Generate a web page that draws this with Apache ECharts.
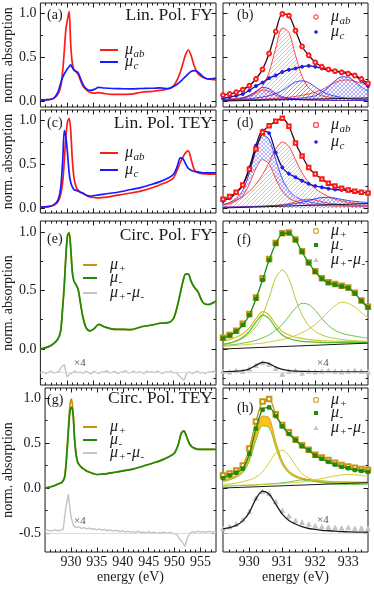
<!DOCTYPE html>
<html>
<head>
<meta charset="utf-8">
<script src="https://cdn.jsdelivr.net/npm/echarts@6/dist/echarts.min.js"></script>
<style>
  html, body { margin: 0; padding: 0; background: #fff; }
  #chart { width: 374px; height: 589px; }
</style>
</head>
<body>
<div id="chart"></div>
<script>
// ---------- data ----------
// left column (wide energy range)
const energyL = [925, 926.5, 927.5, 928.3, 928.8, 929.2, 929.5, 929.8, 930.1, 930.4, 930.7, 931.0, 931.3, 931.7, 932.1, 932.5, 933.0, 933.6, 934.3, 935.0, 936.0, 937.0, 938.5, 940.0, 942.0, 944.0, 946.0, 947.5, 949.0, 950.0, 950.7, 951.3, 951.8, 952.3, 952.8, 953.3, 953.9, 954.6, 955.5, 956.5, 958.0];
const muAbA = [0.01, 0.015, 0.03, 0.08, 0.16, 0.35, 0.58, 0.82, 0.93, 1.02, 0.64, 0.43, 0.36, 0.33, 0.30, 0.24, 0.17, 0.13, 0.10, 0.09, 0.095, 0.085, 0.075, 0.075, 0.078, 0.10, 0.11, 0.12, 0.14, 0.17, 0.24, 0.33, 0.43, 0.53, 0.58, 0.52, 0.40, 0.31, 0.27, 0.25, 0.24];
const muCA = [0.01, 0.015, 0.03, 0.10, 0.20, 0.27, 0.31, 0.34, 0.37, 0.39, 0.41, 0.38, 0.35, 0.34, 0.32, 0.26, 0.19, 0.14, 0.12, 0.13, 0.155, 0.148, 0.142, 0.14, 0.138, 0.142, 0.145, 0.15, 0.14, 0.165, 0.19, 0.22, 0.25, 0.28, 0.31, 0.335, 0.345, 0.33, 0.28, 0.25, 0.26];
const muAbC = [0.01, 0.015, 0.03, 0.07, 0.15, 0.30, 0.55, 0.82, 0.98, 1.02, 0.88, 0.55, 0.35, 0.24, 0.20, 0.18, 0.17, 0.145, 0.125, 0.12, 0.115, 0.12, 0.135, 0.15, 0.17, 0.195, 0.23, 0.265, 0.30, 0.34, 0.43, 0.52, 0.58, 0.63, 0.65, 0.56, 0.44, 0.40, 0.39, 0.385, 0.385];
const muCC = [0.01, 0.015, 0.035, 0.09, 0.22, 0.55, 0.88, 0.80, 0.62, 0.40, 0.29, 0.24, 0.21, 0.20, 0.19, 0.18, 0.165, 0.145, 0.135, 0.14, 0.15, 0.158, 0.17, 0.185, 0.21, 0.235, 0.27, 0.30, 0.34, 0.38, 0.47, 0.57, 0.56, 0.50, 0.45, 0.43, 0.415, 0.41, 0.40, 0.40, 0.40];
const muPlusE = [0.0, 0.02, 0.047, 0.088, 0.155, 0.37, 0.56, 0.81, 0.975, 0.995, 0.86, 0.655, 0.58, 0.55, 0.505, 0.40, 0.27, 0.18, 0.155, 0.17, 0.21, 0.19, 0.17, 0.168, 0.165, 0.19, 0.205, 0.22, 0.225, 0.26, 0.36, 0.48, 0.58, 0.64, 0.64, 0.58, 0.53, 0.49, 0.40, 0.378, 0.405];
const muMinusE = [0.0, 0.018, 0.045, 0.085, 0.15, 0.36, 0.55, 0.80, 0.97, 0.99, 0.86, 0.66, 0.58, 0.55, 0.51, 0.40, 0.27, 0.18, 0.155, 0.17, 0.21, 0.19, 0.17, 0.168, 0.165, 0.19, 0.205, 0.22, 0.225, 0.26, 0.36, 0.48, 0.58, 0.64, 0.64, 0.58, 0.53, 0.49, 0.40, 0.38, 0.41];
const muPlusG = [0.0, 0.02, 0.045, 0.065, 0.13, 0.40, 0.68, 0.92, 0.99, 0.85, 0.55, 0.37, 0.29, 0.25, 0.225, 0.21, 0.19, 0.175, 0.16, 0.15, 0.155, 0.16, 0.175, 0.19, 0.21, 0.245, 0.28, 0.31, 0.35, 0.39, 0.48, 0.61, 0.63, 0.57, 0.50, 0.46, 0.44, 0.43, 0.43, 0.43, 0.43];
const muMinusG = [0.0, 0.02, 0.045, 0.065, 0.125, 0.37, 0.62, 0.84, 0.90, 0.82, 0.54, 0.365, 0.285, 0.25, 0.225, 0.21, 0.19, 0.175, 0.16, 0.15, 0.155, 0.16, 0.175, 0.19, 0.21, 0.245, 0.28, 0.31, 0.35, 0.39, 0.48, 0.61, 0.635, 0.575, 0.50, 0.46, 0.44, 0.43, 0.43, 0.43, 0.43];

// dichroism (x4), 0.5 eV steps
const energyFine = [925, 925.5, 926, 926.5, 927, 927.5, 928, 928.5, 929, 929.5, 930, 930.5, 931, 931.5, 932, 932.5, 933, 933.5, 934, 934.5, 935, 935.5, 936, 936.5, 937, 937.5, 938, 938.5, 939, 939.5, 940, 940.5, 941, 941.5, 942, 942.5, 943, 943.5, 944, 944.5, 945, 945.5, 946, 946.5, 947, 947.5, 948, 948.5, 949, 949.5, 950, 950.5, 951, 951.5, 952, 952.5, 953, 953.5, 954, 954.5, 955, 955.5, 956, 956.5, 957, 957.5, 958];
const diffE = [-0.205, -0.195, -0.21, -0.2, -0.19, -0.205, -0.2, -0.19, -0.15, -0.135, -0.24, -0.215, -0.205, -0.19, -0.205, -0.195, -0.21, -0.19, -0.2, -0.215, -0.19, -0.2, -0.21, -0.195, -0.2, -0.185, -0.205, -0.2, -0.19, -0.21, -0.2, -0.195, -0.185, -0.205, -0.2, -0.19, -0.205, -0.195, -0.2, -0.21, -0.19, -0.2, -0.195, -0.205, -0.19, -0.2, -0.21, -0.195, -0.2, -0.19, -0.205, -0.2, -0.225, -0.25, -0.265, -0.21, -0.195, -0.21, -0.2, -0.19, -0.205, -0.2, -0.21, -0.195, -0.2, -0.19, -0.205];
const diffG = [-0.475, -0.465, -0.48, -0.47, -0.465, -0.475, -0.47, -0.46, -0.22, -0.07, -0.32, -0.42, -0.44, -0.43, -0.45, -0.44, -0.455, -0.445, -0.46, -0.45, -0.465, -0.455, -0.47, -0.46, -0.475, -0.465, -0.48, -0.47, -0.475, -0.485, -0.475, -0.49, -0.48, -0.49, -0.485, -0.495, -0.48, -0.495, -0.49, -0.5, -0.485, -0.5, -0.49, -0.505, -0.495, -0.5, -0.49, -0.505, -0.495, -0.5, -0.51, -0.52, -0.57, -0.6, -0.65, -0.55, -0.5, -0.485, -0.495, -0.48, -0.49, -0.485, -0.495, -0.48, -0.49, -0.485, -0.49];
const diffZeroE = -0.2;
const diffZeroG = -0.5;

// right column (zoom on the L3 edge), 0.2 eV steps
const energyR = [929.2, 929.4, 929.6, 929.8, 930.0, 930.2, 930.4, 930.6, 930.8, 931.0, 931.2, 931.4, 931.6, 931.8, 932.0, 932.2, 932.4, 932.6, 932.8, 933.0, 933.2, 933.4, 933.6];
const energyBg = [929.2, 933.6];

// (b)
const muAbB = [0.068, 0.08, 0.10, 0.13, 0.175, 0.25, 0.36, 0.54, 0.79, 0.99, 0.97, 0.80, 0.62, 0.52, 0.44, 0.39, 0.36, 0.34, 0.325, 0.31, 0.29, 0.25, 0.20];
const muCB = [0.03, 0.045, 0.06, 0.08, 0.12, 0.17, 0.21, 0.26, 0.29, 0.33, 0.355, 0.37, 0.39, 0.40, 0.39, 0.37, 0.35, 0.34, 0.335, 0.32, 0.29, 0.23, 0.17];
const abBigB = [0.02, 0.025, 0.03, 0.04, 0.06, 0.10, 0.17, 0.33, 0.60, 0.83, 0.78, 0.52, 0.28, 0.15, 0.09, 0.06, 0.045, 0.035, 0.03, 0.025, 0.02, 0.02, 0.015];
const abSmallB = [0.005, 0.008, 0.015, 0.025, 0.05, 0.09, 0.125, 0.11, 0.065, 0.038, 0.025, 0.018, 0.013, 0.011, 0.01, 0.009, 0.008, 0.007, 0.007, 0.006, 0.006, 0.005, 0.005];
const abRightB = [0.01, 0.011, 0.012, 0.014, 0.016, 0.019, 0.022, 0.026, 0.03, 0.036, 0.043, 0.052, 0.065, 0.08, 0.10, 0.13, 0.17, 0.21, 0.235, 0.24, 0.225, 0.20, 0.17];
const cSmallB = [0.008, 0.012, 0.02, 0.035, 0.065, 0.11, 0.155, 0.14, 0.085, 0.05, 0.032, 0.023, 0.017, 0.014, 0.012, 0.01, 0.009, 0.008, 0.008, 0.007, 0.007, 0.006, 0.006];
const cMidB = [0.01, 0.012, 0.015, 0.02, 0.025, 0.035, 0.045, 0.06, 0.085, 0.12, 0.17, 0.215, 0.23, 0.21, 0.16, 0.11, 0.075, 0.055, 0.04, 0.03, 0.025, 0.02, 0.018];
const cRightB = [0.008, 0.009, 0.01, 0.011, 0.012, 0.014, 0.016, 0.018, 0.02, 0.023, 0.026, 0.03, 0.035, 0.045, 0.06, 0.10, 0.16, 0.23, 0.275, 0.27, 0.22, 0.16, 0.11];
const bgB = [0.0, 0.035];

// (d)
const muAbD = [0.10, 0.13, 0.18, 0.26, 0.44, 0.67, 0.86, 0.935, 0.985, 1.02, 0.93, 0.74, 0.59, 0.46, 0.385, 0.33, 0.28, 0.25, 0.225, 0.205, 0.19, 0.18, 0.17];
const muCD = [0.08, 0.11, 0.17, 0.26, 0.46, 0.71, 0.88, 0.85, 0.63, 0.46, 0.39, 0.35, 0.31, 0.275, 0.25, 0.235, 0.22, 0.21, 0.205, 0.195, 0.185, 0.18, 0.17];
const cMainD = [0.04, 0.06, 0.11, 0.20, 0.40, 0.66, 0.83, 0.78, 0.55, 0.33, 0.20, 0.13, 0.09, 0.07, 0.055, 0.045, 0.04, 0.035, 0.03, 0.025, 0.02, 0.02, 0.018];
const abSmallD = [0.03, 0.045, 0.08, 0.14, 0.27, 0.45, 0.55, 0.50, 0.33, 0.19, 0.11, 0.075, 0.055, 0.04, 0.035, 0.03, 0.025, 0.02, 0.02, 0.018, 0.015, 0.014, 0.013];
const abBigD = [0.04, 0.06, 0.09, 0.13, 0.19, 0.27, 0.38, 0.52, 0.67, 0.75, 0.70, 0.55, 0.40, 0.29, 0.22, 0.17, 0.13, 0.10, 0.08, 0.065, 0.055, 0.05, 0.045];
const abRightD = [0.01, 0.01, 0.012, 0.013, 0.015, 0.018, 0.02, 0.025, 0.03, 0.038, 0.05, 0.07, 0.092, 0.10, 0.09, 0.07, 0.055, 0.045, 0.038, 0.033, 0.03, 0.028, 0.026];
const cRightD = [0.01, 0.011, 0.012, 0.013, 0.015, 0.017, 0.02, 0.023, 0.027, 0.032, 0.04, 0.05, 0.065, 0.085, 0.105, 0.118, 0.12, 0.112, 0.098, 0.085, 0.075, 0.068, 0.062];
const bgD = [0.0, 0.05];

// (f)
const muPlusF = [0.095, 0.12, 0.155, 0.215, 0.30, 0.44, 0.605, 0.77, 0.905, 0.99, 0.995, 0.935, 0.835, 0.74, 0.665, 0.605, 0.57, 0.555, 0.54, 0.525, 0.48, 0.415, 0.36];
const muMinusF = [0.09, 0.115, 0.15, 0.205, 0.29, 0.43, 0.59, 0.76, 0.90, 0.985, 0.99, 0.93, 0.83, 0.735, 0.66, 0.60, 0.565, 0.55, 0.535, 0.52, 0.475, 0.41, 0.355];
const peak1PlusF = [0.07, 0.08, 0.10, 0.13, 0.18, 0.26, 0.32, 0.29, 0.21, 0.15, 0.12, 0.10, 0.09, 0.08, 0.075, 0.07, 0.068, 0.066, 0.065, 0.065, 0.065, 0.065, 0.065];
const peak1MinusF = [0.04, 0.05, 0.07, 0.10, 0.15, 0.23, 0.29, 0.26, 0.18, 0.12, 0.09, 0.075, 0.065, 0.06, 0.058, 0.056, 0.055, 0.055, 0.055, 0.055, 0.055, 0.055, 0.055];
const peak2F = [0.04, 0.05, 0.065, 0.09, 0.13, 0.19, 0.29, 0.44, 0.61, 0.675, 0.60, 0.43, 0.29, 0.20, 0.15, 0.12, 0.10, 0.09, 0.08, 0.075, 0.07, 0.065, 0.06];
const peak3F = [0.03, 0.035, 0.04, 0.05, 0.06, 0.075, 0.095, 0.12, 0.16, 0.21, 0.28, 0.35, 0.39, 0.38, 0.33, 0.26, 0.20, 0.16, 0.135, 0.12, 0.11, 0.10, 0.095];
const peak4F = [0.02, 0.025, 0.03, 0.035, 0.04, 0.045, 0.05, 0.06, 0.07, 0.08, 0.095, 0.115, 0.14, 0.17, 0.21, 0.26, 0.32, 0.37, 0.40, 0.39, 0.36, 0.31, 0.27];
const bgF = [0.0, 0.05];
const diffF = [-0.19, -0.195, -0.185, -0.19, -0.17, -0.14, -0.115, -0.13, -0.165, -0.215, -0.19, -0.185, -0.205, -0.19, -0.195, -0.19, -0.185, -0.19, -0.195, -0.19, -0.185, -0.19, -0.195];
const diffFitF = [-0.195, -0.193, -0.19, -0.185, -0.17, -0.14, -0.115, -0.125, -0.155, -0.175, -0.185, -0.19, -0.192, -0.193, -0.194, -0.195, -0.195, -0.195, -0.195, -0.195, -0.195, -0.195, -0.195];

// (h)
const muPlusH = [0.14, 0.16, 0.195, 0.25, 0.44, 0.74, 0.96, 0.99, 0.82, 0.70, 0.62, 0.54, 0.475, 0.425, 0.37, 0.34, 0.31, 0.28, 0.255, 0.24, 0.225, 0.21, 0.20];
const muMinusH = [0.11, 0.14, 0.17, 0.215, 0.38, 0.66, 0.87, 0.895, 0.80, 0.685, 0.60, 0.53, 0.465, 0.42, 0.36, 0.325, 0.29, 0.26, 0.235, 0.22, 0.20, 0.19, 0.18];
const peakPlusH = [0.09, 0.11, 0.14, 0.20, 0.36, 0.62, 0.80, 0.78, 0.52, 0.30, 0.19, 0.14, 0.11, 0.095, 0.085, 0.08, 0.075, 0.07, 0.07, 0.068, 0.066, 0.065, 0.065];
const peakMinusH = [0.07, 0.09, 0.12, 0.17, 0.30, 0.53, 0.69, 0.67, 0.45, 0.26, 0.165, 0.12, 0.095, 0.08, 0.07, 0.065, 0.06, 0.058, 0.056, 0.055, 0.054, 0.053, 0.052];
const peak2H = [0.04, 0.045, 0.055, 0.07, 0.09, 0.12, 0.18, 0.28, 0.39, 0.42, 0.36, 0.25, 0.16, 0.11, 0.085, 0.075, 0.07, 0.068, 0.066, 0.065, 0.064, 0.063, 0.062];
const peak3H = [0.02, 0.022, 0.025, 0.028, 0.03, 0.035, 0.04, 0.045, 0.05, 0.058, 0.068, 0.08, 0.09, 0.088, 0.075, 0.06, 0.05, 0.045, 0.042, 0.04, 0.04, 0.04, 0.04];
const peak4H = [0.03, 0.03, 0.03, 0.032, 0.034, 0.036, 0.04, 0.043, 0.046, 0.05, 0.055, 0.06, 0.068, 0.078, 0.09, 0.105, 0.12, 0.135, 0.145, 0.15, 0.148, 0.14, 0.13];
const bgH = [0.0, 0.06];
const diffH = [-0.45, -0.43, -0.40, -0.35, -0.26, -0.11, -0.04, -0.06, -0.15, -0.25, -0.31, -0.36, -0.38, -0.40, -0.42, -0.43, -0.435, -0.44, -0.445, -0.44, -0.45, -0.445, -0.45];
const diffFitH = [-0.455, -0.44, -0.415, -0.365, -0.27, -0.12, -0.035, -0.07, -0.18, -0.29, -0.36, -0.40, -0.43, -0.45, -0.46, -0.47, -0.475, -0.48, -0.485, -0.487, -0.49, -0.49, -0.49];

// ticks
const xMajorL = [930, 935, 940, 945, 950, 955];
const xMinorL = [926, 927, 928, 929, 931, 932, 933, 934, 936, 937, 938, 939, 941, 942, 943, 944, 946, 947, 948, 949, 951, 952, 953, 954, 956, 957];
const xMajorR = [930, 931, 932, 933];
const xMinorR = [929.4, 929.6, 929.8, 930.2, 930.4, 930.6, 930.8, 931.2, 931.4, 931.6, 931.8, 932.2, 932.4, 932.6, 932.8, 933.2, 933.4];
const yMajor = [-0.5, 0, 0.5, 1];
const yMinor = [-0.75, -0.25, 0.25, 0.75];

const panelTags = ['(a)', '(b)', '(c)', '(d)', '(e)', '(f)', '(g)', '(h)'];
const panelTitles = ['Lin. Pol. FY', 'Lin. Pol. TEY', 'Circ. Pol. FY', 'Circ. Pol. TEY'];

// ---------- layout / style ----------
const FONT = '"Liberation Serif", "DejaVu Serif", serif';
const INK = '#1a1a1a';
const RED = '#ff1a1a', BLUE = '#1a1aff', GREEN = '#1f8a0a', GOLD = '#c99212';
const GRAY = '#c4c4c4', YEL = '#d2c41c', LGREEN = '#58c030', ORFILL = '#ffc21a';

const cols = [{ left: 40, width: 176, x: [925, 958] }, { left: 223, width: 145, x: [929.2, 933.6] }];
const rows = [
  { top: 3, height: 104, y: [-0.068, 1.114] },
  { top: 110, height: 103, y: [-0.057, 1.114] },
  { top: 221, height: 164, y: [-0.308, 1.094] },
  { top: 388, height: 164, y: [-0.711, 1.111] }
];

const grids = [], xAxes = [], yAxes = [], series = [], graphics = [];

function pairs(xs, ys) { return xs.map((x, i) => [x, ys[i]]); }

function hatch(color, cross) {
  const s = 4;
  const c = document.createElement('canvas');
  c.width = s; c.height = s;
  const g = c.getContext('2d');
  g.strokeStyle = color; g.lineWidth = 0.6;
  g.beginPath();
  g.moveTo(0, s); g.lineTo(s, 0);
  g.moveTo(-1, 1); g.lineTo(1, -1);
  g.moveTo(s - 1, s + 1); g.lineTo(s + 1, s - 1);
  if (cross) {
    g.moveTo(0, 0); g.lineTo(s, s);
    g.moveTo(-1, s - 1); g.lineTo(1, s + 1);
    g.moveTo(s - 1, -1); g.lineTo(s + 1, 1);
  }
  g.stroke();
  return { image: c, repeat: 'repeat' };
}
const redHatch = hatch('#ff7a7a', false);
const blueHatch = hatch('#7a7aff', false);
const blueCross = hatch('#8a8aff', true);

function axisDef(dim, gi, pos, range, vals, len, lab, name) {
  return {
    type: 'value', gridIndex: gi, position: pos, min: range[0], max: range[1],
    axisLine: { show: false, onZero: false },
    splitLine: { show: false },
    axisTick: { show: true, inside: true, length: len, customValues: vals, lineStyle: { color: INK, width: 1 } },
    axisLabel: lab ? {
      show: true, customValues: vals, fontFamily: FONT, fontSize: 14, color: INK,
      margin: dim === 'x' ? 3 : 4,
      formatter: v => dim === 'x' ? String(v) : Number(v).toFixed(1)
    } : { show: false },
    name: name || '', nameLocation: 'middle', nameRotate: dim === 'y' ? 90 : 0,
    nameGap: dim === 'x' ? 18 : 23,
    nameTextStyle: { fontFamily: FONT, fontSize: 14, color: INK }
  };
}

function addPanel(r, c) {
  const row = rows[r], col = cols[c];
  const gi = grids.length;
  grids.push({ left: col.left, top: row.top, width: col.width, height: row.height,
    show: true, borderColor: INK, borderWidth: 1, backgroundColor: 'transparent' });
  const inside = (v, rg) => v > rg[0] + 1e-6 && v < rg[1] - 1e-6;
  const xMaj = c === 0 ? xMajorL : xMajorR, xMin = c === 0 ? xMinorL : xMinorR;
  const yMaj = yMajor.filter(v => inside(v, row.y)), yMin = yMinor.filter(v => inside(v, row.y));
  const bottom = r === rows.length - 1;
  const xi = xAxes.length, yi = yAxes.length;
  xAxes.push(axisDef('x', gi, 'bottom', col.x, xMaj, 4.5, bottom, bottom ? 'energy (eV)' : ''));
  xAxes.push(axisDef('x', gi, 'bottom', col.x, xMin, 2.5, false));
  xAxes.push(axisDef('x', gi, 'top', col.x, xMaj, 4.5, false));
  xAxes.push(axisDef('x', gi, 'top', col.x, xMin, 2.5, false));
  yAxes.push(axisDef('y', gi, 'left', row.y, yMaj, 4.5, c === 0, c === 0 ? 'norm. absorption' : ''));
  yAxes.push(axisDef('y', gi, 'left', row.y, yMin, 2.5, false));
  yAxes.push(axisDef('y', gi, 'right', row.y, yMaj, 4.5, false));
  yAxes.push(axisDef('y', gi, 'right', row.y, yMin, 2.5, false));
  return { xi, yi };
}

function line(p, xs, ys, color, width, extra) {
  return Object.assign({
    type: 'line', xAxisIndex: p.xi, yAxisIndex: p.yi, data: pairs(xs, ys),
    showSymbol: false, symbol: 'none', smooth: 0.3, silent: true, z: 3,
    lineStyle: { color: color, width: width }
  }, extra || {});
}
function area(p, xs, ys, color, fill, z) {
  return line(p, xs, ys, color, 0.8, { areaStyle: { color: fill, opacity: 1, origin: 0 }, z: z || 1 });
}
function points(p, xs, ys, lineColor, lineWidth, symbol, size, symColor, z) {
  return line(p, xs, ys, lineColor, lineWidth, {
    showSymbol: true, symbol: symbol, symbolSize: size, z: z || 4,
    itemStyle: { color: symColor, borderColor: symColor, borderWidth: 1 }
  });
}
function baseline(p, xs, ys, value) {
  return line(p, xs, ys, GRAY, 1.4, {
    smooth: false, z: 2,
    markLine: { silent: true, symbol: 'none', label: { show: false }, animation: false,
      lineStyle: { color: '#d4d4d4', width: 0.8, type: 'solid' }, data: [{ yAxis: value }] }
  });
}

const pA = addPanel(0, 0), pB = addPanel(0, 1);
const pC = addPanel(1, 0), pD = addPanel(1, 1);
const pE = addPanel(2, 0), pF = addPanel(2, 1);
const pG = addPanel(3, 0), pH = addPanel(3, 1);

// (a) / (c)
series.push(line(pA, energyL, muAbA, RED, 1.7), line(pA, energyL, muCA, BLUE, 1.7));
series.push(line(pC, energyL, muAbC, RED, 1.7), line(pC, energyL, muCC, BLUE, 1.7));

// (e) / (g)
series.push(baseline(pE, energyFine, diffE, diffZeroE));
series.push(line(pE, energyL, muPlusE, GOLD, 1.7), line(pE, energyL, muMinusE, GREEN, 1.7));
series.push(baseline(pG, energyFine, diffG, diffZeroG));
series.push(line(pG, energyL, muPlusG, GOLD, 1.7), line(pG, energyL, muMinusG, GREEN, 1.7));

// (b)
series.push(
  area(pB, energyR, abBigB, RED, redHatch),
  area(pB, energyR, abRightB, RED, redHatch),
  area(pB, energyR, cMidB, BLUE, blueHatch),
  area(pB, energyR, cRightB, BLUE, blueCross),
  area(pB, energyR, abSmallB, RED, redHatch),
  area(pB, energyR, cSmallB, BLUE, blueCross),
  line(pB, energyBg, bgB, INK, 1, { smooth: false, z: 2 }),
  points(pB, energyR, muCB, '#101070', 1.3, 'circle', 3, BLUE),
  points(pB, energyR, muAbB, '#3a0a0a', 1.3, 'emptyCircle', 3.8, RED, 5)
);

// (d)
series.push(
  area(pD, energyR, cMainD, BLUE, blueCross),
  area(pD, energyR, abSmallD, RED, '#ffffff', 1.5),
  area(pD, energyR, abBigD, RED, redHatch, 1.6),
  area(pD, energyR, abRightD, RED, redHatch, 1.6),
  area(pD, energyR, cRightD, BLUE, blueCross, 1.6),
  line(pD, energyBg, bgD, INK, 1, { smooth: false, z: 2 }),
  points(pD, energyR, muCD, '#101070', 1.3, 'circle', 3, BLUE),
  points(pD, energyR, muAbD, '#3a0a0a', 1.3, 'emptyRect', 3.5, RED, 5)
);

// (f)
series.push(
  line(pF, energyR, peak4F, YEL, 0.9, { z: 2 }),
  line(pF, energyR, peak3F, LGREEN, 0.9, { z: 2 }),
  line(pF, energyR, peak2F, '#a8c41c', 0.9, { z: 2 }),
  line(pF, energyR, peak1PlusF, YEL, 1.2, { z: 2 }),
  line(pF, energyR, peak1MinusF, LGREEN, 1.2, { z: 2 }),
  line(pF, energyBg, bgF, INK, 1, { smooth: false, z: 2 }),
  baseline(pF, energyR, [], diffZeroE),
  points(pF, energyR, diffF, 'transparent', 0, 'triangle', 4.5, GRAY, 3),
  line(pF, energyR, diffFitF, INK, 1.3, { z: 4 }),
  points(pF, energyR, muPlusF, GOLD, 0, 'emptyRect', 4.5, GOLD, 4),
  points(pF, energyR, muMinusF, GREEN, 1.3, 'rect', 3.5, GREEN, 5)
);

// (h)
series.push(
  area(pH, energyR, peakPlusH, GOLD, ORFILL, 1),
  area(pH, energyR, peakMinusH, LGREEN, '#ffffff', 1.5),
  line(pH, energyR, peak2H, YEL, 0.9, { z: 2 }),
  line(pH, energyR, peak3H, LGREEN, 0.9, { z: 2 }),
  line(pH, energyR, peak4H, YEL, 0.9, { z: 2 }),
  line(pH, energyBg, bgH, INK, 1, { smooth: false, z: 2 }),
  baseline(pH, energyR, [], diffZeroG),
  points(pH, energyR, diffH, 'transparent', 0, 'triangle', 4.5, GRAY, 3),
  line(pH, energyR, diffFitH, INK, 1.3, { z: 4 }),
  points(pH, energyR, muPlusH, GOLD, 1.3, 'emptyRect', 4.5, GOLD, 4),
  points(pH, energyR, muMinusH, GREEN, 1.3, 'rect', 3.5, GREEN, 5)
);

// ---------- text: tags, titles, legends ----------
const mctx = document.createElement('canvas').getContext('2d');
function textW(t, font) { mctx.font = font; return mctx.measureText(t).width; }
function txt(x, y, t, font, align, fill) {
  return { type: 'text', x: x, y: y, z: 100, silent: true,
    style: { text: t, font: font, fill: fill || INK, textAlign: align || 'left', textVerticalAlign: 'middle', align: align || 'left', verticalAlign: 'middle' } };
}
function muText(x, y, segs) {
  let cx = x;
  segs.forEach(([t, kind]) => {
    const font = kind === 's' ? 'italic 11px ' + FONT : kind === 'm' ? 'italic 16px ' + FONT : '15px ' + FONT;
    graphics.push(txt(cx, kind === 's' ? y + 4 : y, t, font));
    cx += textW(t, font) + 0.5;
  });
}
const MU_AB = [['μ', 'm'], ['ab', 's']], MU_C = [['μ', 'm'], ['c', 's']];
const MU_P = [['μ', 'm'], ['+', 's']], MU_M = [['μ', 'm'], ['-', 's']];
const MU_D = [['μ', 'm'], ['+', 's'], ['-', 'n'], ['μ', 'm'], ['-', 's']];

const tagPos = [[47, 15], [237, 15], [47, 123], [237, 123], [47, 239], [237, 240], [47, 400], [237, 408]];
panelTags.forEach((t, i) => graphics.push(txt(tagPos[i][0], tagPos[i][1], t, '14px ' + FONT)));
const titleY = [15, 123, 235, 398];
panelTitles.forEach((t, i) => graphics.push(txt(213, titleY[i], t, '17.5px ' + FONT, 'right')));

function keyLine(x1, x2, y, color) {
  graphics.push({ type: 'line', z: 100, silent: true, shape: { x1: x1, y1: y, x2: x2, y2: y }, style: { stroke: color, lineWidth: 2 } });
}
// line legends
[[50, RED, MU_AB], [62, BLUE, MU_C]].forEach(([y, c, s]) => { keyLine(100, 118, y, c); muText(125, y, s); });
[[153, RED, MU_AB], [170, BLUE, MU_C]].forEach(([y, c, s]) => { keyLine(100, 118, y, c); muText(125, y, s); });
[[265, GOLD, MU_P], [278, GREEN, MU_M], [293, GRAY, MU_D]].forEach(([y, c, s]) => { keyLine(83, 97, y, c); muText(110, y, s); });
[[427, GOLD, MU_P], [440, GREEN, MU_M], [453, GRAY, MU_D]].forEach(([y, c, s]) => { keyLine(83, 97, y, c); muText(110, y, s); });

// symbol legends
function keySym(kind, x, y, color) {
  if (kind === 'emptyCircle') graphics.push({ type: 'circle', z: 100, silent: true, shape: { cx: x, cy: y, r: 2.2 }, style: { fill: '#fff', stroke: color, lineWidth: 1 } });
  if (kind === 'circle') graphics.push({ type: 'circle', z: 100, silent: true, shape: { cx: x, cy: y, r: 1.8 }, style: { fill: color } });
  if (kind === 'emptyRect') graphics.push({ type: 'rect', z: 100, silent: true, shape: { x: x - 2.2, y: y - 2.2, width: 4.4, height: 4.4 }, style: { fill: '#fff', stroke: color, lineWidth: 1 } });
  if (kind === 'rect') graphics.push({ type: 'rect', z: 100, silent: true, shape: { x: x - 2, y: y - 2, width: 4, height: 4 }, style: { fill: color } });
  if (kind === 'triangle') graphics.push({ type: 'polygon', z: 100, silent: true, shape: { points: [[x, y - 2.6], [x + 2.6, y + 2], [x - 2.6, y + 2]] }, style: { fill: color } });
}
[[17, 'emptyCircle', RED, MU_AB], [32, 'circle', BLUE, MU_C]].forEach(([y, k, c, s]) => { keySym(k, 316, y, c); muText(331, y, s); });
[[125, 'emptyRect', RED, MU_AB], [142, 'circle', BLUE, MU_C]].forEach(([y, k, c, s]) => { keySym(k, 316, y, c); muText(331, y, s); });
[[231, 'emptyRect', GOLD, MU_P], [245, 'rect', GREEN, MU_M], [260, 'triangle', GRAY, MU_D]].forEach(([y, k, c, s]) => { keySym(k, 316, y, c); muText(331, y, s); });
[[400, 'emptyRect', GOLD, MU_P], [413, 'rect', GREEN, MU_M], [428, 'triangle', GRAY, MU_D]].forEach(([y, k, c, s]) => { keySym(k, 316, y, c); muText(331, y, s); });

// x4 marks
[[74, 363], [317, 363], [74, 521], [317, 520]].forEach(([x, y]) => graphics.push(txt(x, y, '×4', '11px ' + FONT, 'left', '#555')));

const chart = echarts.init(document.getElementById('chart'), null, { renderer: 'canvas' });
chart.setOption({
  animation: false,
  backgroundColor: '#fff',
  grid: grids,
  xAxis: xAxes,
  yAxis: yAxes,
  series: series,
  graphic: { elements: graphics }
});
</script>
</body>
</html>
